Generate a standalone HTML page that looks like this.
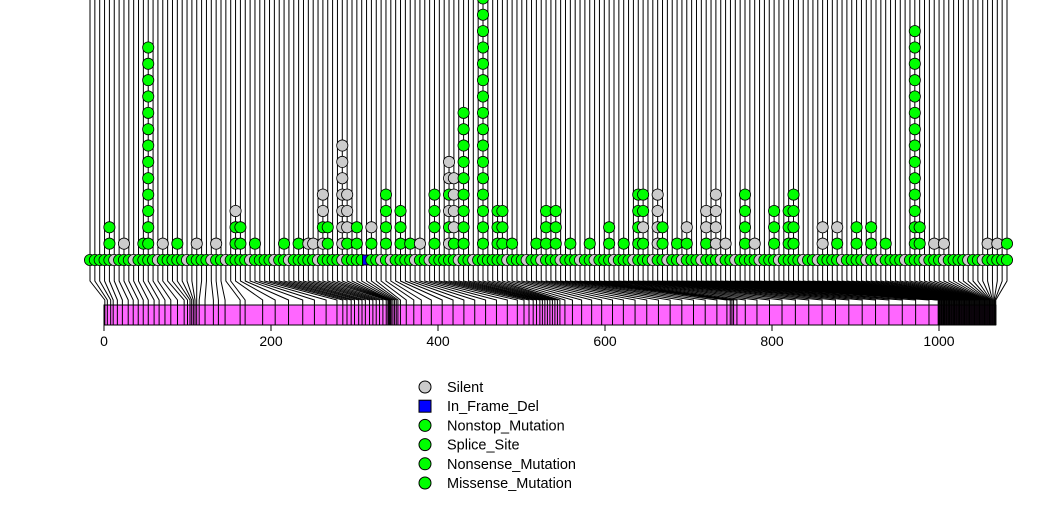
<!DOCTYPE html>
<html><head><meta charset="utf-8"><style>
html,body{margin:0;padding:0;background:#fff;}
svg{display:block;font-family:"Liberation Sans",sans-serif;}
</style></head><body>
<svg id="chart" width="1047" height="524" viewBox="0 0 1047 524"></svg>
<script>
// ---- data ----
const mutPositions = [1,4,8,11,16,22,29,35,41,47,53,60,66,73,80,88,96,100,103,105,107,109,111,114,121,131,137,145,163,169,
190,205,221,238,252,266,279,286,291,296,300,305,309,313,318,322,326,330,334,338,340,341,342,343,344,346,348,350,352,355,
362,371,380,392,405,418,431,444,457,470,483,495,503,509,514,518,522,525,528,531,534,537,540,543,546,552,561,572,584,596,
609,622,636,650,664,678,692,706,720,734,746,750,752,754,758,768,782,797,812,828,844,860,876,892,908,924,940,956,972,988,
999,1000,1001,1002,1003,1004,1005,1006,1007,1008,1009,1010,1011,1012,1013,1014,1015,1016,1017,1018,1019,1020,1021,1022,1023,1024,1025,1026,1027,1028,1029,1030,1031,1032,1033,1034,1035,1036,1037,1038,1039,1040,1041,1042,1043,1044,1045,1046,1047,1048,1049,1050,1051,1052,1053,1054,1055,1056,1057,1058,1059,1060,1061,1062,1063,1064,1065,1066,1067,1068];
const silentBaseIdx = [5,9,14,20,25,28,33,38,41,47,52,60,62,67,70,76,79,86,90,93,97,101,104,108,112,116,119,122,126,130,133,138,142,147,150,155,160,163,168,172,176,181,184];
const inFrameDelIdx = [57];
const stackIdx = [4,7,11,12,15,18,22,26,30,31,34,40,43,45,46,48,49,52,53,55,58,61,64,66,68,71,74,75,77,81,84,85,87,92,94,96,99,103,107,110,113,114,117,118,121,123,127,129,131,135,137,141,144,145,151,154,158,161,164,170,171,174,176,185,187,189];
const stackTypes = ["gg","s","g","ggggggggggggg","s","g","s","s","ggs","gg","g","g","g","s","s","sgss","gg","sssssss","gsss","gg","gs","gggg","ggg","g","s","gggg","sgsgss","gssss","ggggggggg","ggggggggggggggggg","ggg","ggg","g","g","ggg","ggg","g","g","gg","g","gggg","gsgg","ssss","gg","g","gs","gss","ssss","s","gggg","s","ggg","ggg","gggg","ss","gs","gg","gg","g","gggggggggggggg","gg","s","s","s","s","g"];
const tickValues = [0,200,400,600,800,1000];
const proteinLength = 1068;
const legendLabels = ["Silent","In_Frame_Del","Nonstop_Mutation","Splice_Site","Nonsense_Mutation","Missense_Mutation"];
const legendColors = ["#cccccc","#0000ff","#00ff00","#00ff00","#00ff00","#00ff00"];

const displayOrder = mutPositions.slice().sort((a,b)=>a-b);

// ---- scales ----
const NS="http://www.w3.org/2000/svg";
const svg=document.getElementById('chart');
const X0=104, X1000=939;
const aaX = v => X0 + v*(X1000-X0)/1000;
const N = displayOrder.length;
const dispX = i => 90 + i*(1007-90)/(N-1);
const baseY=260, rowH=16.35, R=5.6;
const rowY = k => baseY - k*rowH;
function el(tag,attrs,parent){const e=document.createElementNS(NS,tag);for(const k in attrs)e.setAttribute(k,attrs[k]);(parent||svg).appendChild(e);return e;}

const stems=el('g',{});


for(let i=0;i<N;i++){
  el('line',{x1:dispX(i),y1:0,x2:dispX(i),y2:baseY,stroke:'#000','stroke-width':1},stems);
}
const conn=el('g',{});


for(let i=0;i<N;i++){
  const dx=dispX(i), ax=aaX(displayOrder[i]);
  el('polyline',{points:`${dx},${baseY} ${dx},281 ${ax},300 ${ax},325`,fill:'none',stroke:'#000','stroke-width':1},conn);
}
const bar=el('rect',{x:aaX(0),y:305,width:aaX(proteinLength)-aaX(0),height:20,fill:'#ff66ff',stroke:'#000','stroke-width':1});


for(let i=0;i<N;i++){
  el('line',{x1:aaX(displayOrder[i]),y1:305,x2:aaX(displayOrder[i]),y2:325,stroke:'#000','stroke-width':1},svg);
}
const axis=el('g',{});


el('line',{x1:aaX(0),y1:325,x2:aaX(1000),y2:325,stroke:'#000'},axis);
tickValues.forEach(v=>{
  el('line',{x1:aaX(v),y1:325,x2:aaX(v),y2:331,stroke:'#000'},axis);
  const t=el('text',{x:aaX(v),y:346,'text-anchor':'middle','font-size':14,fill:'#000'},axis);
  t.textContent=String(v);
  
  
});
const base=el('g',{});


for(let i=0;i<N;i++){
  const x=dispX(i);
  if(inFrameDelIdx.includes(i)){
    el('rect',{x:x-4,y:baseY-5,width:8,height:10,fill:'#0000ff',stroke:'#000'},base);
  } else {
    const c=el('circle',{cx:x,cy:baseY,r:R,fill:silentBaseIdx.includes(i)?'#cccccc':'#00ff00',stroke:'#000','stroke-width':0.8},base);
    
    
  }
}
const stk=el('g',{});


stackIdx.forEach((idx,s)=>{
  const types=stackTypes[s];
  for(let k=0;k<types.length;k++){
    const c=el('circle',{cx:dispX(idx),cy:rowY(k+1),r:R,fill:types[k]==='s'?'#cccccc':'#00ff00',stroke:'#000','stroke-width':0.8},stk);
    
    
  }
});
const leg=el('g',{});


legendLabels.forEach((lab,i)=>{
  const y=387+i*19.2;
  if(lab==='In_Frame_Del') el('rect',{x:419,y:y-6,width:12,height:12,fill:legendColors[i],stroke:'#000'},leg);
  else el('circle',{cx:425,cy:y,r:6,fill:legendColors[i],stroke:'#000'},leg);
  const t=el('text',{x:447,y:y+5,'font-size':14.5,fill:'#000'},leg);
  t.textContent=lab;
  
  
});
</script>
</body></html>
